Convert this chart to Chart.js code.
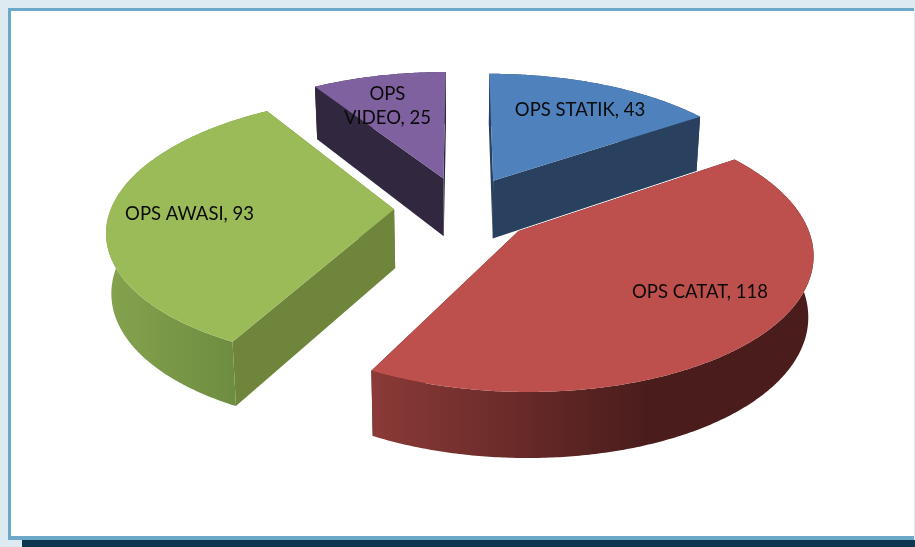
<!DOCTYPE html>
<html>
<head>
<meta charset="utf-8">
<script src="https://cdn.jsdelivr.net/npm/chart.js@4"></script>
<style>
html,body{margin:0;padding:0;width:915px;height:547px;overflow:hidden;background:#deeaf1}
#frame{position:absolute;left:8px;top:8px;width:904px;height:525px;background:#fff;border:3px solid #6ba8c9;border-bottom-width:4px;border-right-width:0}
#edge{position:absolute;left:914px;top:8px;width:1px;height:532px;background:#deeaf1}
#strip{position:absolute;left:22px;top:540px;width:893px;height:7px;background:#0c374f}
canvas{position:absolute;left:0;top:0}
</style>
</head>
<body>
<div id="frame"></div><div id="edge"></div><div id="strip"></div>
<canvas id="c" width="915" height="547"></canvas>
<script>
const categories = ["OPS STATIK", "OPS CATAT", "OPS AWASI", "OPS VIDEO"];
const values = [43, 118, 93, 25];
const labelLines = [["OPS STATIK, 43"], ["OPS CATAT, 118"], ["OPS AWASI, 93"], ["OPS", "VIDEO, 25"]];
const labelNudge = [[2, 3], [1, -13], [9, 1], [-6, 7]];
const topColors = ["#4f81bd", "#bd4f4c", "#9bbb59", "#7f61a0"];
const sideColors = ["#29415f", "#4a1d1c", "#70853c", "#31273f"];
const wallStops = [
  [[0, "#29415f"], [1, "#29415f"]],
  [[0, "#8b3a37"], [0.62, "#4a1d1c"], [1, "#4a1d1c"]],
  [[0, "#85a34e"], [1, "#6e8d40"]],
  [[0, "#31273f"], [1, "#31273f"]]
];
const explode = [59, 63, 58, 59];
const paintOrder = [0, 3, 2, 1];

// Perspective view of the pie plane
const view = {cx: 462, cy: 208, ax: 283, by: 130, p: 0.146, depth: 59, depthTilt: 6, shrink: 0.985};
function top3d(u, v) {
  const w = 1 - view.p * v;
  return {x: view.cx + view.ax * u / w, y: view.cy + view.by * v / w};
}
function bottom3d(u, v) {
  const t = top3d(u, v);
  return {x: view.cx + (t.x - view.cx) * view.shrink, y: t.y + view.depth + view.depthTilt * v};
}
function fillPoly(ctx, pts, fill) {
  ctx.beginPath();
  pts.forEach((q, i) => i ? ctx.lineTo(q.x, q.y) : ctx.moveTo(q.x, q.y));
  ctx.closePath();
  ctx.fillStyle = fill;
  ctx.fill();
}
function geometry(arc) {
  const g = arc.getProps(["startAngle", "endAngle", "outerRadius"], true);
  const R = g.outerRadius;
  const mid = (g.startAngle + g.endAngle) / 2;
  const e = arc.options.offset / R;
  return {a0: g.startAngle, a1: g.endAngle, mid, ou: e * Math.cos(mid), ov: e * Math.sin(mid)};
}
const pie3d = {
  id: "pie3d",
  beforeDatasetDraw(chart) {
    const ctx = chart.ctx;
    const arcs = chart.getDatasetMeta(0).data;
    paintOrder.forEach(i => {
      const g = geometry(arcs[i]);
      const rim = [];
      const n = Math.ceil((g.a1 - g.a0) / 0.01);
      for (let k = 0; k <= n; k++) {
        const a = g.a0 + (g.a1 - g.a0) * k / n;
        rim.push([g.ou + Math.cos(a), g.ov + Math.sin(a)]);
      }
      const apex = [g.ou, g.ov];
      const first = rim[0], last = rim[rim.length - 1];
      const quad = (p, q) => [top3d(...p), top3d(...q), bottom3d(...q), bottom3d(...p)];
      fillPoly(ctx, quad(apex, first), sideColors[i]);
      fillPoly(ctx, quad(apex, last), sideColors[i]);
      const wall = rim.map(q => top3d(...q)).concat(rim.slice().reverse().map(q => bottom3d(...q)));
      const front = rim.filter(q => q[1] > 0).map(q => top3d(...q).x);
      const xs = front.length > 1 ? front : wall.map(q => q.x);
      const x0 = Math.min(...xs), x1 = Math.max(...xs);
      const grad = ctx.createLinearGradient(x0, 0, x1, 0);
      wallStops[i].forEach(s => grad.addColorStop(s[0], s[1]));
      fillPoly(ctx, wall, grad);
      fillPoly(ctx, [top3d(...apex)].concat(rim.map(q => top3d(...q))), topColors[i]);
    });
    return false;
  },
  afterDatasetsDraw(chart) {
    const ctx = chart.ctx;
    const arcs = chart.getDatasetMeta(0).data;
    ctx.save();
    ctx.font = '18.5px Lato, "Open Sans", sans-serif';
    ctx.fillStyle = "#0a0a0a";
    ctx.textAlign = "center";
    ctx.textBaseline = "middle";
    labelLines.forEach((lines, i) => {
      const g = geometry(arcs[i]);
      const c = top3d(g.ou + 0.75 * Math.cos(g.mid), g.ov + 0.75 * Math.sin(g.mid));
      lines.forEach((t, j) => ctx.fillText(t, c.x + labelNudge[i][0], c.y + labelNudge[i][1] + (j - (lines.length - 1) / 2) * 24));
    });
    ctx.restore();
  }
};
new Chart(document.getElementById("c"), {
  type: "pie",
  data: {
    labels: categories,
    datasets: [{data: values, backgroundColor: topColors, offset: explode, borderWidth: 0}]
  },
  options: {
    responsive: false,
    animation: false,
    rotation: 0,
    plugins: {legend: {display: false}, tooltip: {enabled: false}}
  },
  plugins: [pie3d]
});
</script>
</body>
</html>
